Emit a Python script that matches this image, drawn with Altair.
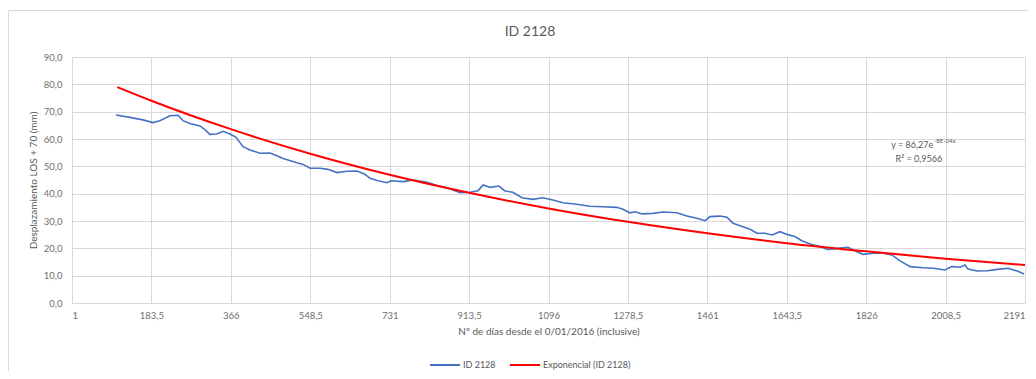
import altair as alt
import pandas as pd

# ---- data ----
dias = [102, 134, 164, 187, 203, 226, 245, 256, 272, 295, 307, 318, 334, 348, 364,
        378, 394, 410, 433, 456, 477, 486, 518, 532, 548, 571, 589, 610, 633, 656,
        674, 686, 704, 725, 734, 762, 785, 817, 840, 863, 893, 916, 934, 946, 962,
        982, 996, 1014, 1035, 1060, 1083, 1106, 1129, 1161, 1191, 1221, 1253, 1267,
        1283, 1295, 1311, 1336, 1359, 1391, 1414, 1437, 1456, 1467, 1490, 1506, 1520,
        1543, 1559, 1575, 1593, 1610, 1628, 1644, 1662, 1678, 1697, 1720, 1738, 1761,
        1784, 1800, 1819, 1842, 1865, 1885, 1904, 1927, 1957, 1980, 2007, 2023, 2042,
        2053, 2060, 2081, 2104, 2127, 2152, 2173, 2189]
desplazamiento = [68.8, 67.9, 67.0, 66.0, 66.7, 68.5, 68.7, 66.7, 65.7, 64.8, 63.3, 61.7,
                  61.8, 62.8, 61.8, 60.6, 57.2, 56.0, 54.8, 54.9, 53.5, 52.9, 51.3, 50.7,
                  49.3, 49.3, 48.9, 47.7, 48.2, 48.3, 47.1, 45.6, 44.7, 44.0, 44.7, 44.4,
                  45.0, 44.2, 43.0, 42.2, 40.4, 40.5, 41.1, 43.2, 42.3, 42.8, 41.0, 40.5,
                  38.5, 37.9, 38.5, 37.7, 36.7, 36.1, 35.4, 35.2, 35.0, 34.3, 33.0, 33.4,
                  32.6, 32.8, 33.3, 33.0, 31.8, 31.0, 30.1, 31.6, 31.8, 31.4, 29.2, 27.9,
                  27.0, 25.5, 25.5, 24.9, 26.1, 25.1, 24.3, 22.8, 21.6, 20.6, 19.6, 20.0,
                  20.4, 19.1, 17.8, 18.2, 18.2, 17.6, 15.4, 13.3, 12.9, 12.7, 12.1, 13.3,
                  13.1, 13.9, 12.4, 11.7, 11.8, 12.3, 12.7, 11.7, 10.6]

dias_tendencia = [105, 183.5, 366, 548.5, 731, 913.5, 1096, 1278.5, 1461, 1643.5, 1826, 2008.5, 2191]
tendencia = [79.0, 74.0, 63.6, 54.6, 46.9, 40.3, 34.6, 29.7, 25.5, 21.9, 18.9, 16.2, 13.9]

x_ticks = [1, 183.5, 366, 548.5, 731, 913.5, 1096, 1278.5, 1461, 1643.5, 1826, 2008.5, 2191]
y_ticks = [0, 10, 20, 30, 40, 50, 60, 70, 80, 90]

serie_datos = "ID 2128"
serie_tend = "Exponencial (ID 2128)"
titulo = "ID 2128"
ecuacion = "y = 86,27e"
ecuacion_exp = "-8E-04x"
r2 = "R² = 0,9566"

FONT = "Lato"
TXT = "#595959"
LBL = "#6f6f6f"
GRID = "#d9d9d9"

df_datos = pd.DataFrame({"dia": dias, "valor": desplazamiento, "serie": serie_datos})
df_tend = pd.DataFrame({"dia": dias_tendencia, "valor": tendencia, "serie": serie_tend})

x_enc = alt.X(
    "dia:Q",
    scale=alt.Scale(domain=[1, 2191], nice=False, zero=False),
    axis=alt.Axis(
        values=x_ticks, tickCount=len(x_ticks),
        labelExpr="replace(format(datum.value, '.1~f'), '.', ',')",
        title="Nº de días desde el 0/01/2016 (inclusive)",
        grid=True, ticks=False, domain=False, labelOverlap=False,
        labelPadding=7, titlePadding=7,
        labelFontSize=9.5, titleFontSize=10,
        labelColor=LBL, titleColor=TXT, titleFontWeight="normal",
        labelFont=FONT, titleFont=FONT, gridColor=GRID,
    ),
)
y_enc = alt.Y(
    "valor:Q",
    scale=alt.Scale(domain=[0, 90], nice=False),
    axis=alt.Axis(
        values=y_ticks, tickCount=len(y_ticks),
        labelExpr="replace(format(datum.value, '.1f'), '.', ',')",
        title="Desplazamiento LOS + 70 (mm)",
        grid=True, ticks=False, domain=False, labelOverlap=False,
        labelPadding=10, titlePadding=5,
        labelFontSize=9.5, titleFontSize=10,
        labelColor=LBL, titleColor=TXT, titleFontWeight="normal",
        labelFont=FONT, titleFont=FONT, gridColor=GRID,
    ),
)

color_scale = alt.Scale(domain=[serie_datos, serie_tend], range=["#4472C4", "#FF0000"])
legend = alt.Legend(
    title=None, orient="none", direction="horizontal",
    legendX=357, legendY=292,
    symbolType="stroke", symbolSize=900, symbolStrokeWidth=2,
    labelFont=FONT, labelFontSize=9, labelColor=TXT,
    labelOffset=2, columnPadding=10,
)

linea_datos = alt.Chart(df_datos).mark_line(strokeWidth=1.6).encode(
    x=x_enc, y=y_enc,
    color=alt.Color("serie:N", scale=color_scale, legend=legend),
)
linea_tend = alt.Chart(df_tend).mark_line(strokeWidth=2, interpolate="monotone").encode(
    x="dia:Q", y="valor:Q",
    color=alt.Color("serie:N", scale=color_scale, legend=legend),
)

df_eq = pd.DataFrame({"dia": [1980], "valor": [57.8], "t": [ecuacion]})
df_eq2 = pd.DataFrame({"dia": [1982], "valor": [59.4], "t": [ecuacion_exp]})
df_r2 = pd.DataFrame({"dia": [1947], "valor": [52.7], "t": [r2]})

eq = alt.Chart(df_eq).mark_text(font=FONT, fontSize=9, color=TXT, align="right", baseline="middle").encode(
    x="dia:Q", y="valor:Q", text="t:N")
eq2 = alt.Chart(df_eq2).mark_text(font=FONT, fontSize=6, color=TXT, align="left", baseline="middle").encode(
    x="dia:Q", y="valor:Q", text="t:N")
r2t = alt.Chart(df_r2).mark_text(font=FONT, fontSize=9, color=TXT, align="center", baseline="middle").encode(
    x="dia:Q", y="valor:Q", text="t:N")

df_one = pd.DataFrame({"t": [titulo]})
title_mark = alt.Chart(df_one).mark_text(font=FONT, fontSize=14, color=TXT, align="center", baseline="middle").encode(
    x=alt.value(458), y=alt.value(-25), text="t:N")
frame = alt.Chart(df_one).mark_rect(fill=None, stroke="#d9d9d9", strokeWidth=1).encode(
    x=alt.value(-63.5), x2=alt.value(1000), y=alt.value(-46.5), y2=alt.value(400))

chart = alt.layer(frame, linea_datos, linea_tend, eq, eq2, r2t, title_mark).properties(
    width=953, height=246,
    autosize=alt.AutoSizeParams(type="none"),
    padding={"left": 64, "top": 49, "right": 3, "bottom": 68},
).configure_view(stroke=None).configure(background="white")

chart.save("out.html", embed_options={"renderer": "svg", "actions": False})
